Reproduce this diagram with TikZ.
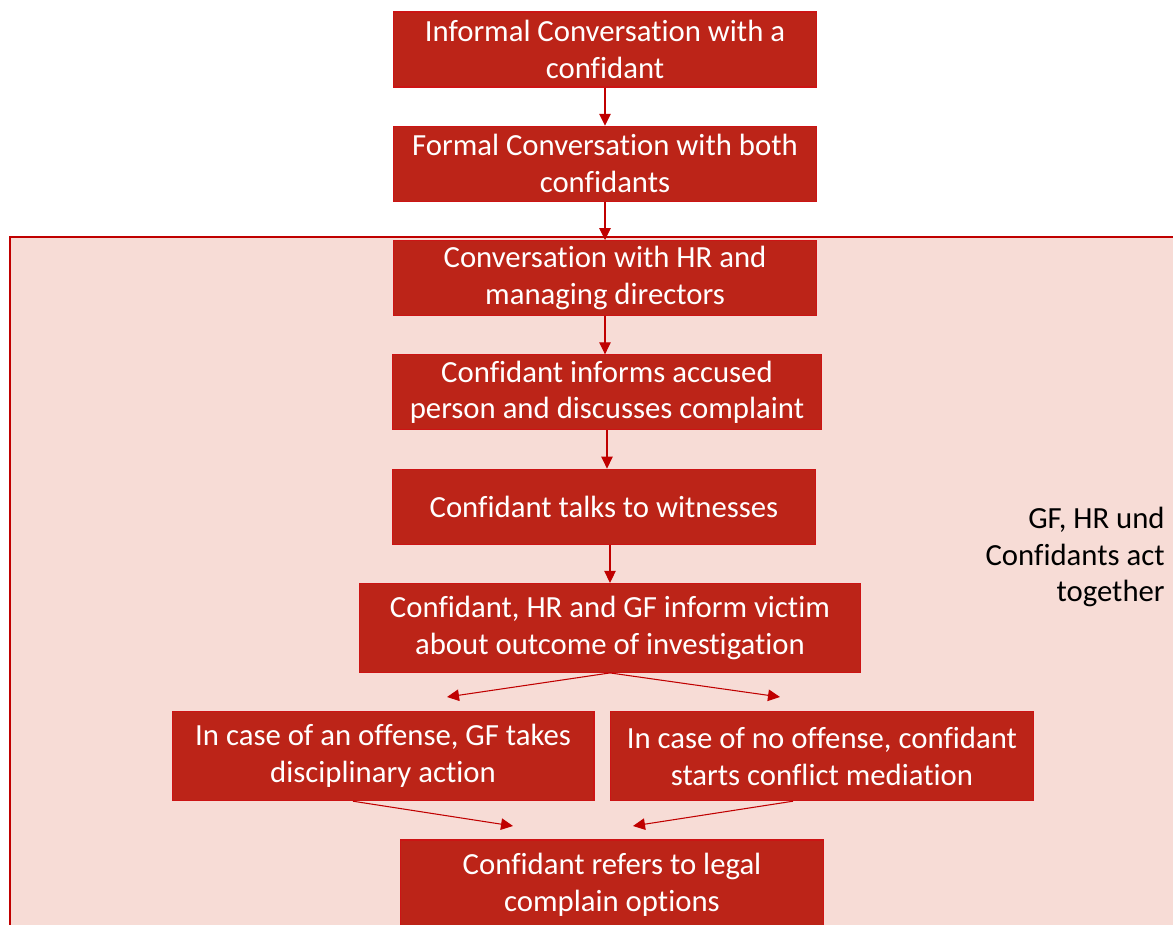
\documentclass[tikz,border=0pt]{standalone}
\usepackage{fontspec}
\setmainfont{Carlito}[Ligatures=NoCommon]
\usepackage{tikz}
\usetikzlibrary{arrows.meta, positioning, calc}
\definecolor{cBox}{RGB}{188,36,24}
\definecolor{cEdge}{RGB}{204,20,20}
\definecolor{cLine}{RGB}{192,0,0}
\definecolor{cPanel}{RGB}{247,220,214}
\tikzset{
	stepbox/.style ={rectangle, draw=cEdge, line width=0.6pt, fill=cBox, text=white, align=center, inner sep=0pt, minimum width=8.46cm, minimum height=1.5cm, font=\fontsize{17.5}{21}\selectfont},
	widebox/.style ={stepbox, minimum height=1.78cm},
	flowarrow/.style={-{Triangle[length=2.4mm, width=2.3mm]}, draw=cLine, line width=0.6pt},
	panel/.style    ={draw=cLine, line width=1pt, fill=cPanel},
}
\begin{document}
\begin{tikzpicture}[x=0.02cm, y=-0.02cm, node distance=0.765cm]
	\clip (0,0) rectangle (1173,925);
	\fill[white] (0,0) rectangle (1173,925);
	\draw[panel] (10,237) rectangle (1200,960);
	\node[stepbox] (informal) at (605,49.5) {Informal Conversation with a\\confidant};
	\node[stepbox, below=of informal] (formal) {Formal Conversation with both\\confidants};
	\node[stepbox, below=of formal] (hr) {Conversation with HR and\\managing directors};
	\node[stepbox, below=of hr, xshift=0.04cm, minimum width=8.6cm] (accused) {Confidant informs accused\\person and discusses complaint};
	\node[stepbox, below=of accused, xshift=-0.06cm] (witness) {Confidant talks to witnesses};
	\node[widebox, below=of witness, xshift=0.12cm, minimum width=10.04cm] (victim) {Confidant, HR and GF inform victim\\about outcome of investigation};
	\node[widebox, below=of victim, xshift=-4.54cm, minimum width=8.44cm] (offense) {In case of an offense, GF takes\\disciplinary action};
	\node[widebox, below=of victim, xshift=4.24cm, minimum width=8.46cm] (nooffense) {In case of no offense, confidant\\starts conflict mediation};
	\coordinate (mid) at (offense.south -| victim.south);
	\node[widebox, below=of mid, xshift=0.04cm] (legal) {Confidant refers to legal\\complain options};
	\node[anchor=east, align=right, inner sep=0pt, font=\fontsize{17.5}{21}\selectfont] (together) at (1165,557) {GF, HR und\\Confidants act\\together};
	\draw[flowarrow] (informal.south) -- (informal.south |- formal.north);
	\draw[flowarrow] (formal.south) -- (formal.south |- hr.north);
	\draw[flowarrow] (hr.south) -- (hr.south |- accused.north);
	\draw[flowarrow] (accused.south) -- (accused.south |- witness.north);
	\draw[flowarrow] (witness.south -| victim.north) -- (victim);
	\coordinate (splitL) at (447,697);
	\coordinate (splitR) at (780,697);
	\coordinate (joinL) at (513,826);
	\coordinate (joinR) at (633,826);
	\draw[flowarrow] (victim.south) -- (splitL);
	\draw[flowarrow] (victim.south) -- (splitR);
	\draw[flowarrow] (offense.south -| 353,0) -- (joinL);
	\draw[flowarrow] (nooffense.south -| 793,0) -- (joinR);
\end{tikzpicture}
\end{document}
